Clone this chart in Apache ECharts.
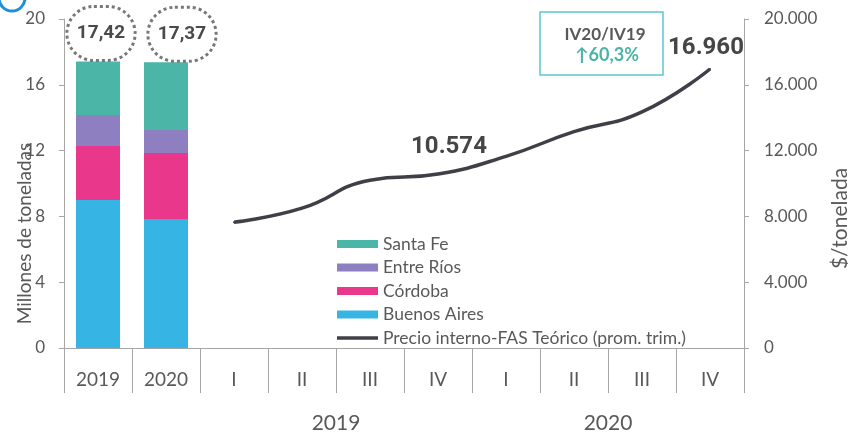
<!DOCTYPE html>
<html lang="es">
<head>
    <meta charset="UTF-8">
    <title>Producción por provincia y precio interno</title>
    <style>
        html, body {
            margin: 0;
            width: 100%;
            height: 100%;
            background: #fff;
        }
        #chartmain {
            width: 848px;
            height: 433px;
        }
    </style>
</head>
<body>
<div id="chartmain"></div>

<script src="https://cdn.jsdelivr.net/npm/echarts@6/dist/echarts.min.js"></script>
<script type="text/javascript">
    // categorias del eje x: 2 barras anuales + 8 trimestres
    var categorias = ['2019', '2020', 'I', 'II', 'III', 'IV', 'I', 'II', 'III', 'IV'];
    var grupos = ['2019', '2020'];

    // millones de toneladas por provincia
    var buenosAires = [9.0, 7.8];
    var cordoba = [3.28, 4.05];
    var entreRios = [1.88, 1.4];
    var santaFe = [3.26, 4.12];
    var totales = ['17,42', '17,37'];

    // precio interno FAS teórico, $/tonelada (promedio trimestral)
    var precio = [7650, 8500, 10200, 10574, 11650, 13150, 14350, 16960];

    var gris = '#a6a6a6';
    var texto = '#595959';
    var fuente = 'Lato';

    function barras(valores) {
        // las barras ocupan sólo las dos primeras categorías
        var d = valores.slice();
        while (d.length < categorias.length) d.push(null);
        return d;
    }

    function miles(v) {
        return String(v).replace(/\B(?=(\d{3})+(?!\d))/g, '.');
    }

    var lineaPrecio = [null, null];
    for (var i = 0; i < precio.length; i++) {
        var item = { value: precio[i] };
        if (i === 3) {
            item.label = { show: true, offset: [11, -9] };
        }
        if (i === precio.length - 1) {
            item.label = { show: true, offset: [-4, -3] };
        }
        lineaPrecio.push(item);
    }

    var totalesSantaFe = barras(santaFe);
    totalesSantaFe[0] = { value: santaFe[0], label: { offset: [3, 0] } };
    totalesSantaFe[1] = { value: santaFe[1], label: { offset: [16, 0] } };

    var nombrePrecio = 'Precio interno-FAS Teórico (prom. trim.)';

    var option = {
        animation: false,
        textStyle: { fontFamily: fuente },
        grid: { left: 64, right: 104, top: 19, bottom: 85, outerBoundsMode: 'none' },
        legend: {
            orient: 'vertical',
            left: 337,
            top: 235,
            padding: 0,
            itemWidth: 41,
            itemHeight: 8,
            itemGap: 5.5,
            symbolKeepAspect: true,
            textStyle: { fontSize: 17.5, color: texto, fontFamily: fuente },
            data: [
                { name: 'Santa Fe', icon: 'rect' },
                { name: 'Entre Ríos', icon: 'rect' },
                { name: 'Córdoba', icon: 'rect' },
                { name: 'Buenos Aires', icon: 'rect' },
                { name: nombrePrecio, icon: 'path://M0,0H100V9H0Z' }
            ]
        },
        xAxis: [{
            type: 'category',
            data: categorias,
            axisLine: { lineStyle: { color: gris } },
            axisTick: { show: true, interval: 0, length: 45, lineStyle: { color: gris } },
            axisLabel: { interval: 0, margin: 22, fontSize: 19, color: texto }
        }, {
            type: 'value',
            min: 0,
            max: 10,
            position: 'bottom',
            offset: 45,
            splitLine: { show: false },
            axisLine: { show: false },
            axisTick: { show: true, customValues: [0, 2, 6, 10], length: 40, lineStyle: { color: gris } },
            axisLabel: {
                customValues: [4, 8],
                margin: 20,
                fontSize: 21,
                color: texto,
                formatter: function (v) { return v === 4 ? grupos[0] : grupos[1]; }
            }
        }],
        yAxis: [{
            type: 'value',
            min: 0,
            max: 20,
            interval: 4,
            name: 'Millones de toneladas',
            nameLocation: 'middle',
            nameGap: 30,
            nameMoveOverlap: false,
            nameTextStyle: { fontSize: 19, color: texto, padding: [0, 100, 0, 0] },
            splitLine: { show: false },
            axisLine: { show: true, lineStyle: { color: gris } },
            axisTick: { show: true, length: 5, lineStyle: { color: gris } },
            axisLabel: { fontSize: 17, color: texto, margin: 19 }
        }, {
            type: 'value',
            min: 0,
            max: 20000,
            interval: 4000,
            name: '$/tonelada',
            nameLocation: 'middle',
            nameRotate: 90,
            nameGap: 86,
            nameMoveOverlap: false,
            nameTextStyle: { fontSize: 21, color: texto, padding: [0, 70, 0, 0] },
            splitLine: { show: false },
            axisLine: { show: true, lineStyle: { color: gris } },
            axisTick: { show: true, length: 5, lineStyle: { color: gris } },
            axisLabel: { fontSize: 17, color: texto, margin: 20, formatter: miles }
        }],
        series: [{
            name: 'Buenos Aires',
            type: 'bar',
            stack: 'prov',
            barWidth: 44,
            itemStyle: { color: '#36b5e5' },
            data: barras(buenosAires)
        }, {
            name: 'Córdoba',
            type: 'bar',
            stack: 'prov',
            itemStyle: { color: '#e9388b' },
            data: barras(cordoba)
        }, {
            name: 'Entre Ríos',
            type: 'bar',
            stack: 'prov',
            itemStyle: { color: '#8e7fc0' },
            data: barras(entreRios)
        }, {
            name: 'Santa Fe',
            type: 'bar',
            stack: 'prov',
            itemStyle: { color: '#4bb5a8' },
            label: {
                show: true,
                position: 'top',
                distance: 1,
                formatter: function (p) { return totales[p.dataIndex]; },
                fontFamily: 'Roboto',
                fontSize: 19,
                lineHeight: 22,
                fontWeight: 'bold',
                color: '#4a4a4a',
                borderType: 'dotted',
                borderWidth: 3,
                borderColor: '#777',
                borderRadius: 30,
                padding: [16, 10]
            },
            data: totalesSantaFe
        }, {
            name: nombrePrecio,
            type: 'line',
            yAxisIndex: 1,
            smooth: true,
            symbol: 'circle',
            symbolSize: 2,
            lineStyle: { color: '#3f3f48', width: 3.5 },
            itemStyle: { color: '#3f3f48' },
            label: {
                show: false,
                position: 'top',
                fontFamily: 'Roboto',
                fontSize: 24,
                fontWeight: 'bold',
                color: '#454545',
                formatter: function (p) { return miles(p.value); }
            },
            data: lineaPrecio
        }],
        graphic: [{
            type: 'circle',
            shape: { cx: 12, cy: -2, r: 13 },
            style: { fill: 'none', stroke: '#1e8fd8', lineWidth: 3 }
        }, {
            type: 'rect',
            shape: { x: 540, y: 12, width: 123, height: 63 },
            style: { fill: '#fff', stroke: '#5cc6cf', lineWidth: 1.5 }
        }, {
            type: 'text',
            x: 605,
            y: 35,
            style: {
                text: 'IV20/IV19',
                font: 'bold 17px Lato',
                fill: '#595959',
                align: 'center',
                verticalAlign: 'middle'
            }
        }, {
            type: 'text',
            x: 607,
            y: 55,
            style: {
                text: '↑60,3%',
                font: 'bold 18px Lato',
                fill: '#4db3a6',
                align: 'center',
                verticalAlign: 'middle'
            }
        }]
    };

    var myChart = echarts.init(document.getElementById('chartmain'));
    myChart.setOption(option);
</script>
</body>
</html>
